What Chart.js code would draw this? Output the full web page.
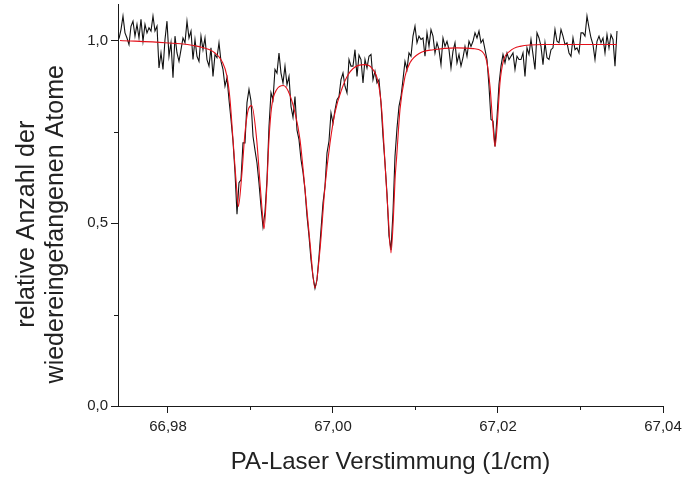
<!DOCTYPE html>
<html>
<head>
<meta charset="utf-8">
<script src="https://cdn.jsdelivr.net/npm/chart.js@4.4.1/dist/chart.umd.min.js"></script>
<style>
  html, body { margin: 0; padding: 0; background: #fff; }
  #wrap { width: 682px; height: 479px; }
</style>
</head>
<body>
<div id="wrap"><canvas id="chart"></canvas></div>
<script>
// tick positions
const X_TICKS = [66.98, 67.00, 67.02, 67.04];
const X_MINOR = [66.99, 67.01, 67.03];
const Y_TICKS = [0, 0.5, 1.0];
const Y_MINOR = [0.25, 0.75];

const X_TITLE = "PA-Laser Verstimmung (1/cm)";
const Y_TITLE = ["relative Anzahl der", "wiedereingefangenen Atome"];

// measured trace: evenly sampled from DATA_X0 in steps of DATA_DX
const DATA_X0 = 66.97406;
const DATA_DX = 0.000242424;
const dataY = [
    1.005, 1.030, 1.067, 1.021, 1.007, 0.989, 1.039, 1.053, 1.012, 1.044,
    1.007, 1.058, 0.998, 1.044, 1.021, 1.035, 1.026, 1.067, 1.026, 1.039,
    0.925, 0.966, 0.921, 1.003, 1.053, 0.957, 0.994, 0.898, 1.012, 0.966,
    0.943, 0.975, 1.007, 0.994, 1.053, 1.007, 1.026, 0.948, 1.003, 0.957,
    0.943, 1.012, 0.975, 1.007, 0.948, 0.930, 0.980, 0.902, 0.962, 0.953,
    0.994, 0.943, 0.921, 0.875, 0.898, 0.838, 0.784, 0.725, 0.640, 0.525,
    0.611, 0.619, 0.720, 0.720, 0.830, 0.866,
    0.835, 0.738, 0.700, 0.665, 0.610, 0.545, 0.490, 0.530, 0.620, 0.765,
    0.857, 0.838, 0.921, 0.911, 0.966, 0.911, 0.884, 0.930, 0.879, 0.902,
    0.820, 0.790, 0.847, 0.755, 0.729, 0.675, 0.640, 0.592, 0.520, 0.465,
    0.400, 0.354, 0.322, 0.345, 0.409, 0.482, 0.555, 0.601, 0.692, 0.725,
    0.802, 0.774, 0.810, 0.838, 0.847, 0.893, 0.911, 0.875, 0.857, 0.948,
    0.930, 0.930, 0.975, 0.902, 0.960, 0.948, 0.884, 0.948, 0.925, 0.957,
    0.962, 0.893, 0.916, 0.884, 0.893, 0.829, 0.738, 0.665, 0.580, 0.465,
    0.427, 0.530, 0.683,
    0.760, 0.820, 0.847, 0.893, 0.943, 0.921, 0.966, 0.957, 1.012, 1.039,
    0.994, 1.012, 1.003, 1.007, 0.957, 1.021, 0.984, 1.030, 1.012, 0.966,
    0.994, 0.975, 0.934, 1.007, 0.984, 0.998, 0.975, 0.925, 0.971, 0.994,
    0.939, 0.962, 0.930, 0.953, 0.984, 0.957, 0.998, 0.984, 0.998, 1.021,
    1.007, 1.026, 0.994, 1.003, 0.975, 0.948, 0.875, 0.784, 0.780, 0.710,
    0.790, 0.880, 0.930, 0.962, 0.939, 0.966, 0.948,
    0.957, 0.966, 0.921, 0.957, 0.948, 0.948, 0.966, 0.902, 0.980, 0.962,
    1.003, 0.962, 0.921, 1.021, 1.007, 0.984, 0.934, 0.994, 0.953, 0.948,
    0.975, 0.980, 1.030, 0.998, 0.994, 1.030, 1.012, 0.989, 0.994, 0.966,
    0.957, 1.007, 0.975, 0.980, 0.966, 1.021, 1.021, 1.012, 1.067, 1.035,
    1.007, 0.989, 0.948, 0.998, 1.012, 0.994, 1.007, 0.966, 1.016, 0.980,
    1.016, 1.003, 0.930, 1.026
];

// fitted curve
const fitX = [
    66.97418, 66.97964, 66.98364, 66.98570, 66.98655, 66.98715, 66.98752, 66.98788,
    66.98836, 66.98852, 66.98893, 66.98933, 66.98973, 66.99015, 66.99075, 66.99115,
    66.99155, 66.99164, 66.99196, 66.99224, 66.99257, 66.99318, 66.99398, 66.99458,
    66.99539, 66.99600, 66.99661, 66.99721, 66.99782, 66.99842, 66.99903, 66.99964,
    67.00024, 67.00105, 67.00185, 67.00307, 67.00388, 67.00469, 67.00549, 67.00590,
    67.00630, 67.00670, 67.00703, 67.00731, 67.00752, 67.00772, 67.00812, 67.00873,
    67.00933, 67.01055, 67.01216, 67.01499, 67.01701, 67.01802, 67.01863, 67.01903,
    67.01936, 67.01964, 67.01992, 67.02024, 67.02064, 67.02145, 67.02267, 67.02545,
    67.03442
];
const fitY = [
    1.000, 0.994, 0.984, 0.966, 0.943, 0.902, 0.838, 0.729,
    0.583, 0.546, 0.628, 0.747, 0.811, 0.822, 0.729, 0.610,
    0.500, 0.485, 0.592, 0.729, 0.820, 0.866, 0.877, 0.861,
    0.803, 0.729, 0.592, 0.447, 0.323, 0.427, 0.600, 0.720,
    0.803, 0.866, 0.907, 0.932, 0.934, 0.925, 0.884, 0.811,
    0.666, 0.518, 0.419, 0.510, 0.620, 0.683, 0.811, 0.902,
    0.939, 0.966, 0.975, 0.980, 0.978, 0.971, 0.943, 0.875,
    0.775, 0.710, 0.775, 0.884, 0.943, 0.971, 0.984, 0.989,
    0.989
];

const AXIS_COLOR = "#1a1a1a";
const TEXT_COLOR = "#222";
const FONT = "'Liberation Sans', Arial, sans-serif";

// short minor ticks plus the axis titles, drawn after the chart
const extras = {
    id: "extras",
    afterDraw(chart) {
        const { ctx, scales: { x, y } } = chart;
        ctx.save();
        ctx.strokeStyle = AXIS_COLOR;
        ctx.lineWidth = 1;
        ctx.beginPath();
        X_MINOR.forEach(v => {
            const px = Math.round(x.getPixelForValue(v)) + 0.5;
            ctx.moveTo(px, y.bottom);
            ctx.lineTo(px, y.bottom + 4);
        });
        Y_MINOR.forEach(v => {
            const py = Math.round(y.getPixelForValue(v)) + 0.5;
            ctx.moveTo(x.left - 4, py);
            ctx.lineTo(x.left, py);
        });
        ctx.stroke();

        ctx.fillStyle = TEXT_COLOR;
        ctx.textAlign = "center";
        ctx.textBaseline = "middle";
        ctx.font = "24px " + FONT;
        ctx.fillText(X_TITLE, (x.left + x.right) / 2, 462);
        ctx.font = "25px " + FONT;
        ctx.translate(0, y.getPixelForValue(0.5) + 1);
        ctx.rotate(-Math.PI / 2);
        Y_TITLE.forEach((t, i) => ctx.fillText(t, 0, 27 + i * 29));
        ctx.restore();
    },
};

const trace = dataY.map((v, i) => ({ x: DATA_X0 + i * DATA_DX, y: v }));
const fit = fitX.map((v, i) => ({ x: v, y: fitY[i] }));

new Chart(document.getElementById("chart"), {
    type: "line",
    data: {
        datasets: [
            { label: "Fit", data: fit, borderColor: "#e3101a", borderWidth: 1.1, pointRadius: 0, cubicInterpolationMode: "monotone", order: 0 },
            { label: "Messung", data: trace, borderColor: "#111", borderWidth: 1.1, pointRadius: 0, tension: 0, order: 1 },
        ],
    },
    options: {
        responsive: true, maintainAspectRatio: false, animation: false,
        layout: { padding: { left: 0, right: 19, top: 4, bottom: 0 } },
        plugins: { legend: { display: false }, tooltip: { enabled: false } },
        scales: {
            x: {
                type: "linear", min: 66.97394, max: 67.04,
                afterBuildTicks: s => { s.ticks = X_TICKS.map(v => ({ value: v })); },
                afterFit: s => { s.height = 73; s.paddingLeft = 0; s.paddingRight = 0; },
                border: { color: AXIS_COLOR, width: 1 },
                grid: { drawOnChartArea: false, tickLength: 7, color: AXIS_COLOR },
                ticks: { color: TEXT_COLOR, padding: 5, maxRotation: 0, font: { family: FONT, size: 15 }, callback: v => v.toFixed(2).replace(".", ",") },
            },
            y: {
                min: 0, max: 1.1,
                afterBuildTicks: s => { s.ticks = Y_TICKS.map(v => ({ value: v })); },
                afterFit: s => { s.width = 118; s.paddingTop = 0; s.paddingBottom = 0; },
                border: { color: AXIS_COLOR, width: 1 },
                grid: { drawOnChartArea: false, tickLength: 7, color: AXIS_COLOR },
                ticks: { color: TEXT_COLOR, padding: 3, font: { family: FONT, size: 15 }, callback: v => v.toFixed(1).replace(".", ",") },
            },
        },
    },
    plugins: [extras],
});
</script>
</body>
</html>
